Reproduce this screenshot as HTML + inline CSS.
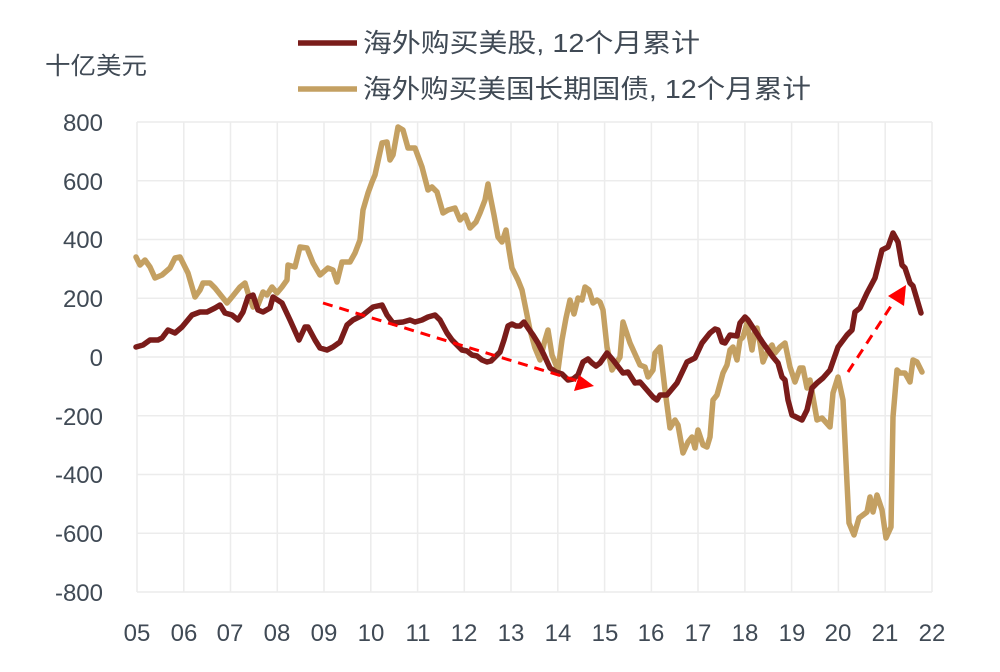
<!DOCTYPE html>
<html><head><meta charset="utf-8"><style>
body{margin:0;background:#fff;}
svg text{font-family:"Liberation Sans","Noto Sans CJK SC",sans-serif;fill:#404a55;}
</style></head><body>
<svg width="1000" height="667" viewBox="0 0 1000 667" xmlns="http://www.w3.org/2000/svg">
<g stroke="#ececec" stroke-width="1.5">
<line x1="137" y1="122" x2="932" y2="122"/><line x1="137" y1="180.75" x2="932" y2="180.75"/><line x1="137" y1="239.5" x2="932" y2="239.5"/><line x1="137" y1="298.25" x2="932" y2="298.25"/><line x1="137" y1="357" x2="932" y2="357"/><line x1="137" y1="415.75" x2="932" y2="415.75"/><line x1="137" y1="474.5" x2="932" y2="474.5"/><line x1="137" y1="533.25" x2="932" y2="533.25"/><line x1="137" y1="592" x2="932" y2="592"/>
<line x1="137" y1="122" x2="137" y2="592"/><line x1="183.8" y1="122" x2="183.8" y2="592"/><line x1="230.5" y1="122" x2="230.5" y2="592"/><line x1="277.3" y1="122" x2="277.3" y2="592"/><line x1="324" y1="122" x2="324" y2="592"/><line x1="370.8" y1="122" x2="370.8" y2="592"/><line x1="417.6" y1="122" x2="417.6" y2="592"/><line x1="464.3" y1="122" x2="464.3" y2="592"/><line x1="511" y1="122" x2="511" y2="592"/><line x1="557.8" y1="122" x2="557.8" y2="592"/><line x1="604.6" y1="122" x2="604.6" y2="592"/><line x1="651.4" y1="122" x2="651.4" y2="592"/><line x1="698" y1="122" x2="698" y2="592"/><line x1="744.9" y1="122" x2="744.9" y2="592"/><line x1="791.6" y1="122" x2="791.6" y2="592"/><line x1="838.4" y1="122" x2="838.4" y2="592"/><line x1="885.2" y1="122" x2="885.2" y2="592"/><line x1="932" y1="122" x2="932" y2="592"/>
</g>
<g font-size="24" text-anchor="end">
<text x="103" y="131">800</text><text x="103" y="190">600</text><text x="103" y="248">400</text><text x="103" y="307">200</text><text x="103" y="366">0</text><text x="103" y="425">-200</text><text x="103" y="483">-400</text><text x="103" y="542">-600</text><text x="103" y="601">-800</text>
</g>
<g font-size="24" text-anchor="middle">
<text x="137" y="641">05</text><text x="184" y="641">06</text><text x="230" y="641">07</text><text x="277" y="641">08</text><text x="324" y="641">09</text><text x="371" y="641">10</text><text x="418" y="641">11</text><text x="464" y="641">12</text><text x="511" y="641">13</text><text x="558" y="641">14</text><text x="605" y="641">15</text><text x="651" y="641">16</text><text x="698" y="641">17</text><text x="745" y="641">18</text><text x="792" y="641">19</text><text x="838" y="641">20</text><text x="885" y="641">21</text><text x="932" y="641">22</text>
</g>
<text x="45" y="74" font-size="24" textLength="102" lengthAdjust="spacingAndGlyphs">十亿美元</text>
<line x1="298" y1="43" x2="357" y2="43" stroke="#7a1c1a" stroke-width="5.5"/>
<text x="363" y="52" font-size="26" textLength="337" lengthAdjust="spacingAndGlyphs">海外购买美股, 12个月累计</text>
<line x1="298" y1="89" x2="357" y2="89" stroke="#c4a062" stroke-width="5.5"/>
<text x="363" y="98" font-size="26" textLength="448" lengthAdjust="spacingAndGlyphs">海外购买美国长期国债, 12个月累计</text>
<g fill="none" stroke-linejoin="round" stroke-linecap="round" stroke-width="5.5">
<polyline stroke="#c4a062" points="136,257 140,265 145,260 150,267 155,278 162,275 170,268 175,258 180,257 183,263 188,273 195,297 200,290 203,283 210,283 215,288 227,303 232,297 240,287 245,283 248,293 253,307 258,305 263,292 267,295 272,287 277,293 282,287 287,280 288,265 295,267 300,247 307,248 313,263 320,275 328,268 333,270 337,282 342,262 350,262 355,253 360,240 363,210 368,193 372,182 375,175 382,143 387,142 390,160 393,155 398,127 403,130 408,148 415,148 422,167 428,190 432,187 437,192 443,213 448,210 455,208 460,220 465,215 470,228 476,222 480,213 485,200 488,184 490,195 494,215 498,237 502,242 506,230 509,250 512,268 518,280 522,290 525,305 530,330 535,348 540,360 545,340 548,330 552,355 558,370 562,340 566,318 570,300 574,314 578,298 582,300 585,287 589,290 593,303 597,300 600,302 603,310 607,347 612,370 620,357 623,322 630,343 640,365 645,367 648,377 653,370 655,353 660,347 665,390 670,428 675,420 678,425 683,453 688,442 692,437 695,448 698,430 703,445 707,447 710,437 713,400 717,395 723,373 727,365 730,350 733,347 737,360 740,340 743,337 747,323 752,350 755,330 757,328 760,343 763,362 768,350 772,345 775,353 780,347 785,343 790,367 795,382 800,368 803,368 807,388 810,380 817,420 822,418 830,427 833,393 838,377 843,400 847,483 849,523 854,535 859,518 867,512 870,497 873,512 877,495 882,510 886,538 891,527 893,417 897,370 900,373 905,373 910,382 913,360 917,362 922,372"/>
<polyline stroke="#7a1c1a" points="136,347 143,345 150,340 158,340 162,338 168,330 175,333 182,327 192,315 200,312 207,312 215,308 220,305 225,313 232,315 238,320 243,312 248,297 253,295 258,310 263,312 270,308 273,297 282,303 290,320 299,340 305,327 308,327 315,340 320,348 327,350 333,347 340,342 347,325 353,320 363,315 373,307 382,305 387,315 393,323 403,322 410,320 415,322 422,320 428,317 435,315 440,320 447,333 452,340 457,345 462,350 467,351 472,355 477,356 482,360 487,362 491,361 495,357 500,352 504,340 508,326 512,324 516,326 520,326 524,322 528,328 533,335 538,343 544,355 550,368 556,372 562,374 568,380 573,379 578,375 583,362 588,359 592,363 596,366 600,363 607,353 613,360 623,373 628,372 635,383 640,382 653,397 657,400 660,395 667,395 677,383 687,362 695,358 702,343 710,333 715,329 718,330 722,342 725,343 730,335 737,336 740,323 745,317 748,320 763,343 773,357 778,363 782,377 785,380 788,400 792,415 802,420 807,410 812,388 817,383 823,378 830,370 838,347 847,335 852,330 855,312 860,308 867,293 875,278 882,250 888,247 893,233 898,242 902,265 905,268 910,283 913,286 921,313"/>
</g>
<g stroke="#f00" stroke-width="3" stroke-dasharray="10,7" fill="none">
<line x1="323" y1="303" x2="578" y2="381"/>
<line x1="848" y1="372" x2="893" y2="303"/>
</g>
<polygon points="594,386 574,391 579,375" fill="#f00"/>
<polygon points="906,285 904,306 888,296" fill="#f00"/>
</svg>
</body></html>
